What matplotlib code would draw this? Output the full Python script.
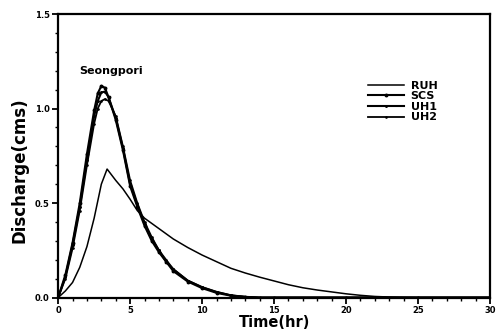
import matplotlib
matplotlib.use("Agg")
import matplotlib.pyplot as plt

# Data
t_uh = [0, 0.5, 1, 1.5, 2, 2.5, 2.75, 3, 3.25, 3.5, 4, 4.5, 5, 5.5, 6, 6.5, 7, 7.5, 8, 9, 10, 11, 12, 13, 14, 15, 20, 25, 30]
q_scs = [0, 0.12, 0.29, 0.50, 0.76, 0.99, 1.08, 1.12, 1.11, 1.06, 0.94, 0.78, 0.59, 0.48, 0.38, 0.30, 0.24, 0.19, 0.14, 0.085, 0.05, 0.025, 0.01, 0.003, 0, 0, 0, 0, 0]
q_uh1 = [0, 0.11, 0.28, 0.48, 0.73, 0.96, 1.04, 1.085, 1.09, 1.06, 0.95, 0.79, 0.60, 0.49, 0.39, 0.31, 0.25, 0.19, 0.15, 0.09, 0.055, 0.03, 0.012, 0.004, 0, 0, 0, 0, 0]
q_uh2 = [0, 0.10, 0.26, 0.46, 0.70, 0.92, 1.00, 1.04, 1.05, 1.04, 0.96, 0.80, 0.62, 0.50, 0.40, 0.32, 0.25, 0.20, 0.15, 0.09, 0.055, 0.03, 0.012, 0.004, 0, 0, 0, 0, 0]

t_ruh = [0, 0.5, 1, 1.5, 2, 2.5, 3, 3.4, 4, 4.5, 5, 5.5, 6, 7, 8, 9, 10, 11, 12, 13, 14, 15, 16, 17, 18, 19, 20, 21, 22, 23, 24, 25, 30]
q_ruh = [0, 0.035, 0.08, 0.16, 0.27, 0.42, 0.60, 0.68, 0.62, 0.575, 0.52, 0.46, 0.42, 0.365, 0.31, 0.265, 0.225, 0.19, 0.155, 0.13, 0.108, 0.088, 0.068, 0.052, 0.04, 0.03, 0.02, 0.012, 0.006, 0.003, 0.001, 0, 0]

station = "Seongpori"
series_names = ["RUH", "SCS", "UH1", "UH2"]
x_ticks = [0, 5, 10, 15, 20, 25, 30]
y_ticks = [0.0, 0.5, 1.0, 1.5]

fig = plt.figure(figsize=(4.97, 3.34), dpi=100)
ax = fig.add_axes([0.117, 0.109, 0.869, 0.849])

ax.plot(t_ruh, q_ruh, color="black", lw=1.1, label=series_names[0])
ax.plot(t_uh, q_scs, color="black", lw=1.5, marker="o", ms=1.8, label=series_names[1])
ax.plot(t_uh, q_uh1, color="black", lw=1.5, marker=".", ms=2.2, label=series_names[2])
ax.plot(t_uh, q_uh2, color="black", lw=1.3, marker=".", ms=1.8, label=series_names[3])

ax.set_xlim(0, 30)
ax.set_ylim(0, 1.5)
ax.set_xticks(x_ticks)
ax.set_xticklabels([str(v) for v in x_ticks], fontsize=6, fontweight="bold")
ax.set_xticks([v for v in range(0, 31) if v % 5 != 0], minor=True)
ax.set_yticks(y_ticks)
ax.set_yticklabels([f"{v:.1f}" for v in y_ticks], fontsize=6, fontweight="bold")
ax.set_yticks([i / 10 for i in range(16) if i % 5 != 0], minor=True)
ax.tick_params(which="major", direction="out", length=4, width=1.3, pad=2)
ax.tick_params(which="minor", direction="out", length=2.5, width=1.0)
for s in ax.spines.values():
    s.set_linewidth(1.6)

ax.set_xlabel("Time(hr)", fontsize=10.5, fontweight="bold")
ax.xaxis.set_label_coords(0.5, -0.06)
ax.set_ylabel("Discharge(cms)", fontsize=12, fontweight="bold")
ax.yaxis.set_label_coords(-0.068, 0.45)

ax.text(1.5, 1.2, station, fontsize=8, fontweight="bold", va="center", ha="left")

ax.legend(loc="upper left", bbox_to_anchor=(0.695, 0.8), frameon=False,
          handlelength=3.2, handletextpad=0.6, labelspacing=0.05,
          prop={"weight": "bold", "size": 8})

fig.savefig("out.png", dpi=100)
